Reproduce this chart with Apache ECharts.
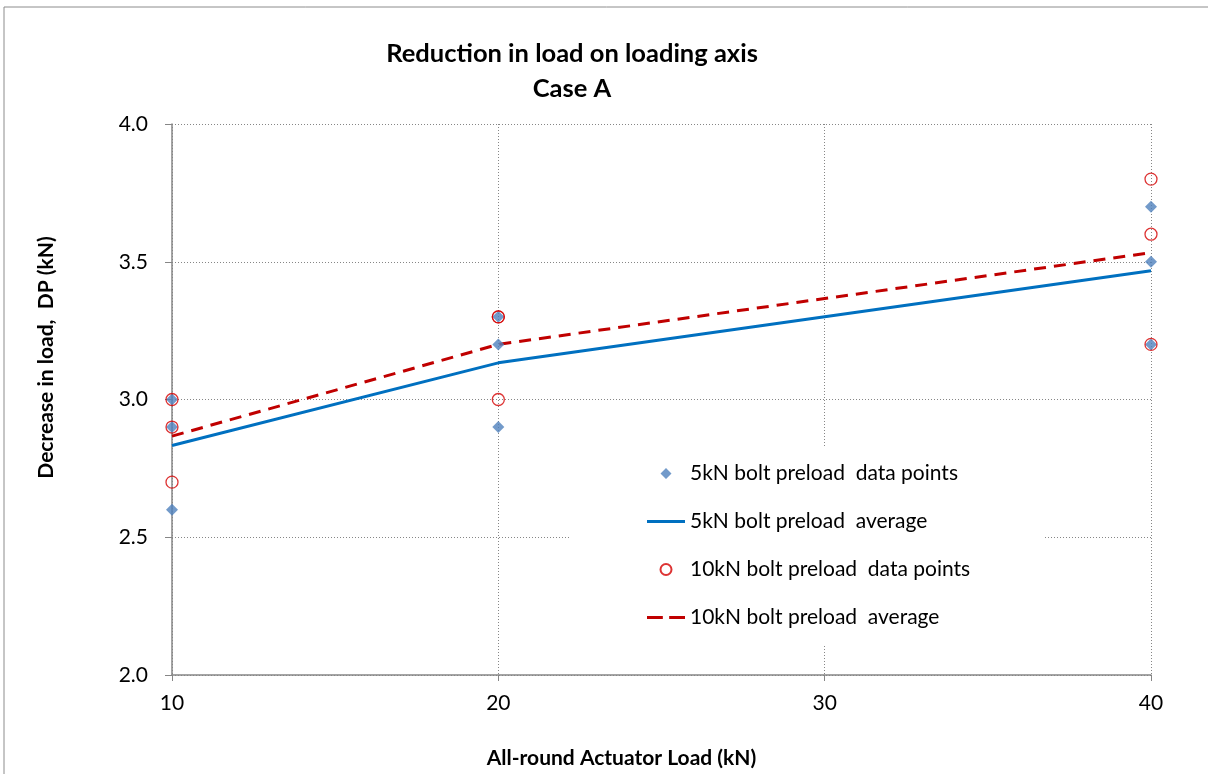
<!DOCTYPE html>
<html>
<head>
<meta charset="utf-8">
<script src="https://cdn.jsdelivr.net/npm/echarts@6/dist/echarts.min.js"></script>
<style>html,body{margin:0;padding:0;background:#fff}#c{width:1208px;height:774px}</style>
</head>
<body>
<div id="c"></div>
<script>
const xTicks = [10, 20, 30, 40];
const yTicks = [2.0, 2.5, 3.0, 3.5, 4.0];
const pts5x = [10, 10, 10, 20, 20, 20, 40, 40, 40];
const pts5y = [3.0, 2.9, 2.6, 3.3, 3.2, 2.9, 3.7, 3.5, 3.2];
const pts10x = [10, 10, 10, 20, 20, 20, 40, 40, 40];
const pts10y = [3.0, 2.9, 2.7, 3.3, 3.3, 3.0, 3.8, 3.6, 3.2];
const avgX = [10, 20, 40];
const avg5 = [2.833, 3.133, 3.467];
const avg10 = [2.867, 3.2, 3.533];
const names = ['5kN bolt preload  data points', '5kN bolt preload  average', '10kN bolt preload  data points', '10kN bolt preload  average'];

const zip = (a, b) => a.map((v, i) => [v, b[i]]);
const FONT = 'Lato';
const chart = echarts.init(document.getElementById('c'));
chart.setOption({
  animation: false,
  textStyle: { fontFamily: FONT },
  title: {
    text: 'Reduction in load on loading axis\nCase A',
    left: 567, top: 31, textAlign: 'center',
    textStyle: { fontFamily: FONT, fontSize: 25.5, fontWeight: 'bold', color: '#000', lineHeight: 35 }
  },
  graphic: [
    { type: 'rect', shape: { x: 4, y: 7, width: 1210, height: 780 }, style: { fill: 'none', stroke: '#8c8c8c', lineWidth: 1 }, z: 0, silent: true },
    { type: 'rect', shape: { x: 570, y: 447, width: 475, height: 198 }, style: { fill: '#fff' }, z: 3, silent: true }
  ],
  legend: {
    orient: 'vertical', left: 642, top: 458,
    itemWidth: 38, itemHeight: 11, itemGap: 27,
    z: 4,
    textStyle: { fontFamily: FONT, fontSize: 21, color: '#000' },
    data: [
      { name: names[0], icon: 'path://M19,0L24.5,5.5L19,11L13.5,5.5Z M0,0h0.01v0.01h-0.01z M37.99,10.99h0.01v0.01h-0.01z', symbolKeepAspect: true },
      { name: names[1], icon: 'path://M0,0h38v3h-38z', symbolKeepAspect: true },
      { name: names[2], icon: 'circle', symbolKeepAspect: true },
      { name: names[3], icon: 'path://M0,0h15v3h-15z M21,0h15v3h-15z', symbolKeepAspect: true }
    ]
  },
  grid: { left: 172, right: 57, top: 124, bottom: 96 },
  xAxis: {
    type: 'value', min: xTicks[0], max: xTicks[xTicks.length - 1], interval: 10,
    name: 'All-round Actuator Load (kN)', nameLocation: 'middle', nameGap: 73,
    nameTextStyle: { fontFamily: FONT, fontSize: 21, fontWeight: 'bold', color: '#000', padding: [0, 80, 0, 0] },
    axisLine: { lineStyle: { color: '#868686', width: 1.5 } },
    axisTick: { show: true, length: 6, lineStyle: { color: '#868686' } },
    axisLabel: { fontSize: 21, color: '#000', margin: 18 },
    splitLine: { show: true, lineStyle: { color: '#868686', type: [1, 2], width: 1 } }
  },
  yAxis: {
    type: 'value', min: yTicks[0], max: yTicks[yTicks.length - 1], interval: 0.5,
    name: 'Decrease in load,  DP (kN)', nameLocation: 'middle', nameGap: 115,
    nameTextStyle: { fontFamily: FONT, fontSize: 21, fontWeight: 'bold', color: '#000', padding: [0, 0, 0, 84] },
    axisLine: { show: true, lineStyle: { color: '#868686', width: 1.5 } },
    axisTick: { show: true, length: 7, lineStyle: { color: '#868686' } },
    axisLabel: { fontSize: 21, color: '#000', margin: 24, formatter: v => v.toFixed(1) },
    splitLine: { show: true, lineStyle: { color: '#868686', type: [1, 2], width: 1 } }
  },
  series: [
    {
      name: names[0], type: 'scatter', data: zip(pts5x, pts5y),
      symbol: 'diamond', symbolSize: 12, symbolKeepAspect: true, itemStyle: { color: '#4F81BD' }, z: 5
    },
    {
      name: names[1], type: 'line', data: zip(avgX, avg5), showSymbol: false, symbol: 'none',
      lineStyle: { color: '#0070C0', width: 3 }, itemStyle: { color: '#0070C0' }, z: 4
    },
    {
      name: names[2], type: 'scatter', data: zip(pts10x, pts10y),
      symbol: 'circle', symbolSize: 12, symbolKeepAspect: true,
      itemStyle: { color: 'rgba(0,0,0,0)', borderColor: '#D40000', borderWidth: 1.3 }, z: 6
    },
    {
      name: names[3], type: 'line', data: zip(avgX, avg10), showSymbol: false, symbol: 'none',
      lineStyle: { color: '#C00000', width: 3, type: [12, 8] }, itemStyle: { color: '#C00000' }, z: 4
    }
  ]
});
</script>
</body>
</html>
